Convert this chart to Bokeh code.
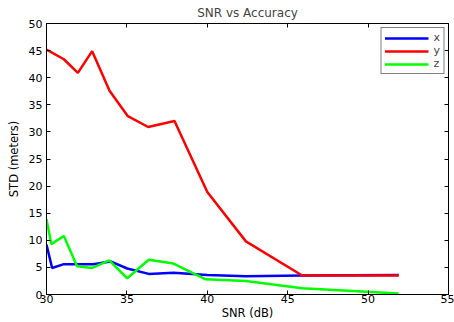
from bokeh.plotting import figure
from bokeh.models import LinearAxis, Range1d, Legend, LegendItem, CustomJSTickFormatter, FixedTicker
from bokeh.embed import file_html
from bokeh.resources import INLINE

snr = [30.0, 31.08, 31.95, 32.84, 33.92, 35.06, 36.32, 37.96, 40.0, 42.4, 45.9, 51.9]
std_y = [45.2, 43.4, 40.9, 44.9, 37.6, 32.9, 30.9, 32.0, 18.9, 9.8, 3.5, 3.5]

snr_x = [30.0, 30.35, 31.08, 32.9, 33.98, 35.02, 36.36, 37.9, 40.0, 42.4, 45.9, 51.9]
std_x = [9.2, 4.9, 5.6, 5.6, 6.1, 4.8, 3.8, 4.0, 3.6, 3.35, 3.5, 3.6]

snr_z = [30.0, 30.3, 31.08, 31.9, 32.84, 33.9, 35.02, 36.36, 37.9, 39.9, 42.4, 45.9, 51.9]
std_z = [13.9, 9.3, 10.8, 5.2, 4.9, 6.3, 3.0, 6.4, 5.7, 2.8, 2.5, 1.15, 0.2]

x_ticks = [30, 35, 40, 45, 50, 55]
y_ticks = [0, 5, 10, 15, 20, 25, 30, 35, 40, 45, 50]

FONT = "DejaVu Sans"

p = figure(width=454, height=322, output_backend="svg", toolbar_location=None,
           x_range=Range1d(30, 55), y_range=Range1d(0, 50),
           min_border_left=46, min_border_right=6, min_border_top=23, min_border_bottom=25)
p.title.text = "SNR vs Accuracy"
p.title.align = "center"
p.title.text_font = FONT
p.title.text_font_size = "12px"
p.title.text_font_style = "normal"
p.title.standoff = 7
p.title.offset = 0

p.xgrid.visible = False
p.ygrid.visible = False
p.outline_line_color = "black"
p.outline_line_width = 1
p.background_fill_color = "white"
p.border_fill_color = "white"

for ax, ticks in ((p.xaxis[0], x_ticks), (p.yaxis[0], y_ticks)):
    ax.ticker = FixedTicker(ticks=ticks)
    ax.major_tick_in = 4
    ax.major_tick_out = 0
    ax.minor_tick_line_color = None
    ax.axis_line_color = "black"
    ax.major_tick_line_color = "black"
    ax.major_label_text_font = FONT
    ax.major_label_text_font_size = "11px"
    ax.major_label_text_color = "black"
    ax.axis_label_text_font = FONT
    ax.axis_label_text_font_size = "11.5px"
    ax.axis_label_text_font_style = "normal"
    ax.axis_label_text_color = "black"
    ax.major_label_standoff = 4

p.xaxis.major_label_standoff = 0
p.xaxis.axis_label = "SNR (dB)"
p.yaxis.axis_label = "STD (meters)"
p.xaxis.axis_label_standoff = 0
p.yaxis.axis_label_standoff = 5

empty = CustomJSTickFormatter(code="return ''")
top = LinearAxis(ticker=FixedTicker(ticks=x_ticks), formatter=empty,
                 major_tick_in=4, major_tick_out=0, minor_tick_line_color=None,
                 major_label_standoff=0, axis_label_standoff=0,
                 major_label_text_font_size="1px")
right = LinearAxis(ticker=FixedTicker(ticks=y_ticks), formatter=empty,
                   major_tick_in=4, major_tick_out=0, minor_tick_line_color=None,
                   major_label_standoff=0, axis_label_standoff=0,
                   major_label_text_font_size="1px")
p.add_layout(top, "above")
p.add_layout(right, "right")

lx = p.line(snr_x, std_x, line_color="#0000ff", line_width=2.5)
ly = p.line(snr, std_y, line_color="#ff0000", line_width=2.5)
lz = p.line(snr_z, std_z, line_color="#00ff00", line_width=2.5)

legend = Legend(items=[LegendItem(label="x", renderers=[lx]),
                       LegendItem(label="y", renderers=[ly]),
                       LegendItem(label="z", renderers=[lz])],
                location="top_right")
legend.label_text_font = FONT
legend.label_text_font_size = "11px"
legend.label_height = 12
legend.label_width = 6
legend.glyph_height = 12
legend.glyph_width = 44
legend.spacing = 0
legend.padding = 3
legend.margin = 4
legend.label_standoff = 5
legend.border_line_color = "black"
legend.border_line_width = 1.5
legend.background_fill_alpha = 1
p.add_layout(legend, "center")

open("out.html", "w").write(file_html(p, INLINE))
